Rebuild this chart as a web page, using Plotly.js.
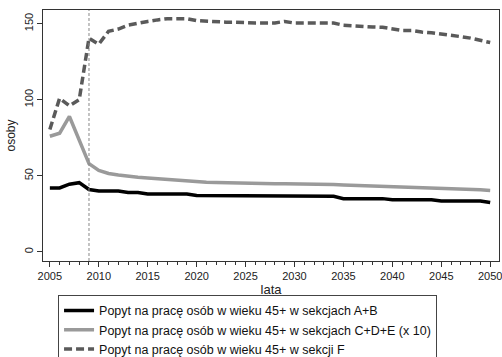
<!DOCTYPE html>
<html><head><meta charset="utf-8">
<script src="https://cdn.plot.ly/plotly-3.0.1.min.js"></script>
<style>html,body{margin:0;padding:0;background:#fff;}#chart{width:502px;height:357px;}</style>
</head><body><div id="chart"></div>
<script>
const years = [];
for (let y = 2005; y <= 2050; y++) years.push(y);
const seriesAB = [42,42,44.5,45.5,41,40,40,40,39,39,38,38,38,38,38,37,37,37,37,36.5,36.5,36.5,36.5,36.5,36.5,36.5,36.5,36.5,36.5,36.5,35,35,35,35,35,34.3,34.3,34.3,34.3,34.3,33.5,33.5,33.5,33.5,33.5,32.4];
const seriesCDE = [76,78,89,74,58,53.5,51.5,50.5,49.5,49,48.5,48,47.5,47,46.5,46,45.8,45.6,45.4,45.2,45,45,44.9,44.8,44.8,44.8,44.7,44.6,44.5,44.3,44,43.8,43.6,43.4,43.2,43,42.8,42.6,42.4,42.2,42,41.7,41.4,41.1,40.8,40.4];
const seriesF = [80.5,101,96,100,140.5,136.5,145,146.5,149,150.5,151.5,152.5,153.3,153.3,153.3,152,151.5,151.5,151,151,150.5,150.5,150.5,150.5,151.5,150.4,150.4,150.4,150.4,150.4,149,148.5,148.5,147.8,147.6,146.5,145.6,145.6,144.5,144,143.3,142.3,141.5,140.5,139,137.6];
const names = [
  "Popyt na pracę osób w wieku 45+ w sekcjach A+B",
  "Popyt na pracę osób w wieku 45+ w sekcjach C+D+E (x 10)",
  "Popyt na pracę osób w wieku 45+ w sekcji F"
];
const markerYear = 2009;

const traces = [
  {x: years, y: seriesAB, name: names[0], mode: "lines", line: {color: "#000000", width: 3.5}},
  {x: years, y: seriesCDE, name: names[1], mode: "lines", line: {color: "#9a9a9a", width: 3.5}},
  {x: years, y: seriesF, name: names[2], mode: "lines", line: {color: "#5a5a5a", width: 3.5, dash: "8px,4px"}}
];

const layout = {
  width: 502, height: 357,
  margin: {l: 43, r: 3, t: 10, b: 96, autoexpand: false},
  paper_bgcolor: "#ffffff", plot_bgcolor: "#ffffff",
  font: {family: "Liberation Sans, Arial, sans-serif", size: 11, color: "#222"},
  showlegend: true,
  legend: {
    x: 0.033, y: -0.135, xanchor: "left", yanchor: "top",
    bordercolor: "#444", borderwidth: 1, bgcolor: "#fff",
    font: {size: 12.5, color: "#111"}, tracegroupgap: 0
  },
  xaxis: {
    range: [2004.3, 2050.9],
    tickvals: [2005,2010,2015,2020,2025,2030,2035,2040,2045,2050],
    ticklabeloverflow: "allow",
    ticks: "outside", ticklen: 5, tickcolor: "#333",
    minor: {dtick: 1, tick0: 2005, ticks: "outside", ticklen: 3, tickcolor: "#333", showgrid: false},
    showgrid: false, zeroline: false,
    showline: true, linecolor: "#333", linewidth: 1, mirror: true,
    title: {text: "lata", font: {size: 13}, standoff: 0},
    tickfont: {size: 11}
  },
  yaxis: {
    range: [-6, 159],
    tickvals: [0, 50, 100, 150],
    tickangle: -90,
    ticks: "outside", ticklen: 5, tickcolor: "#333",
    showgrid: false, zeroline: false,
    showline: true, linecolor: "#333", linewidth: 1, mirror: true,
    title: {text: "osoby", font: {size: 12}, standoff: 4},
    tickfont: {size: 11}
  },
  shapes: [{
    type: "line", xref: "x", yref: "paper", x0: markerYear, x1: markerYear, y0: 0, y1: 1,
    line: {color: "#888", width: 1, dash: "3px,2px"}
  }]
};

Plotly.newPlot("chart", traces, layout, {displayModeBar: false, staticPlot: true});
</script>
</body></html>
